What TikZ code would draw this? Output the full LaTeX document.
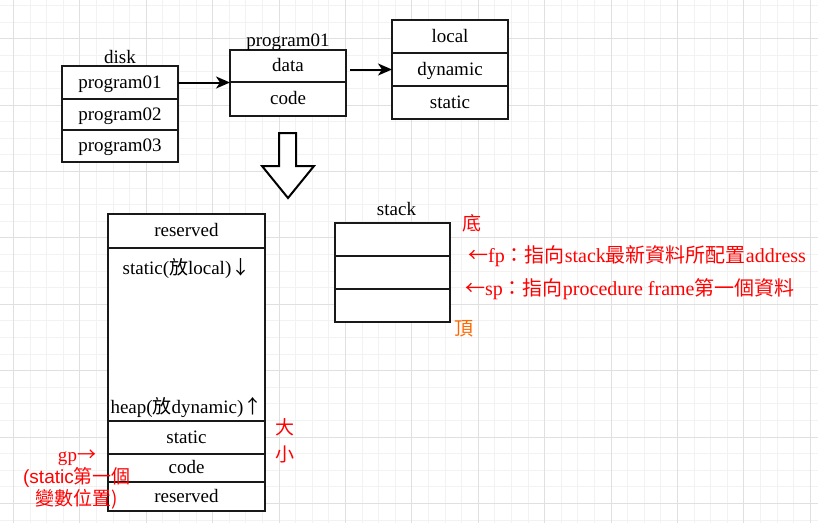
\documentclass[tikz,border=0pt]{standalone}
\usepackage{fontspec}
\setmainfont{Liberation Serif}
\newfontfamily\cjk{Noto Sans CJK TC}
\newfontfamily\latinsans{Liberation Sans}
\usetikzlibrary{positioning,arrows.meta}
\definecolor{topcolor}{RGB}{255,102,0}
\tikzset{
    line cap=round,line join=round,
    cell/.style={draw=black!90, fill=white, line width=2pt, minimum width=116pt,
        minimum height=33pt, inner sep=0pt, outer sep=0pt, text height=14pt, text depth=3pt},
    mem cell/.style={cell, minimum width=157pt},
    red note/.style={text=red, inner sep=0pt},
    flow/.style={-{Stealth[length=14pt,width=12pt,inset=4pt]}, line width=2pt},
    minor grid/.style={draw=black!5, line width=0.8pt},
    major grid/.style={draw=black!12, line width=0.8pt},
}

\begin{document}
\begin{tikzpicture}[x=1pt,y=-1pt,every node/.style={font=\fontsize{19}{22}\selectfont}]
    \useasboundingbox (0,0) rectangle (818,523);
    % grid
    \foreach \i in {0,...,48} \draw[minor grid] ({13.4+16.6*\i},0) -- ++(0,523);
    \foreach \j in {0,...,31} \draw[minor grid] (0,{5.4+16.6*\j}) -- ++(818,0);
    \foreach \i in {0,...,12} \draw[major grid] ({13.4+66.4*\i},0) -- ++(0,523);
    \foreach \j in {0,...,7} \draw[major grid] (0,{38.6+66.4*\j}) -- ++(818,0);

    % disk
    \node[cell] (p1) at (120,82.5) {program01};
    \node[cell, minimum height=31pt, below=0pt of p1] (p2) {program02};
    \node[cell, minimum height=32pt, below=0pt of p2] (p3) {program03};
    \node[above=-1pt of p1] (disk) {disk};

    % program01
    \node[cell, minimum height=32pt] (data) at (288,66) {data};
    \node[cell, minimum height=34pt, below=0pt of data] (code) {code};
    \node[above=-4pt of data] (prog) {program01};

    % local / dynamic / static
    \node[cell] (local) at (450,36.5) {local};
    \node[cell, below=0pt of local] (dyn) {dynamic};
    \node[cell, below=0pt of dyn] (stat) {static};

    \coordinate (dyn in) at (data.east |- dyn.west);
    \draw[flow] (p1.east) -- (p1.east -| data.west);
    \draw[flow] ([xshift=4pt]dyn in) -- (dyn.west);

    % down arrow
    \draw[line width=2pt, fill=white] (279,133) -- (296,133) -- (296,166) -- (314,166)
        -- (288,198) -- (262,166) -- (279,166) -- cycle;

    % memory layout
    \node[mem cell, minimum height=34pt] (res top) at (186.5,231) {reserved};
    \node[mem cell, minimum height=173pt, below=0pt of res top] (free) {};
    \node[mem cell, below=0pt of free] (mstat) {static};
    \node[mem cell, minimum height=28pt, below=0pt of mstat] (mcode) {code};
    \node[mem cell, minimum height=29pt, below=0pt of mcode] (res bot) {reserved};
    \node[below=7pt of free.north] (grow down) {static({\cjk 放}local){\cjk ↓}};
    \node[above=0pt of free.south] (grow up) {heap({\cjk 放}dynamic){\cjk ↑}};

    \node[red note, align=center, font=\cjk\fontsize{19}{27}\selectfont, yshift=-3pt]
        (size) at ([xshift=20pt]mstat.east) {大\\小};
    \node[red note, align=center] (gp) at (77,480)
        {gp{\cjk →}\\{\latinsans(static}{\cjk 第一個}\\{\cjk 變數位置)}};

    % stack
    \node[cell, minimum width=115pt] (s1) at (392.5,239.5) {};
    \node[cell, minimum width=115pt, below=0pt of s1] (s2) {};
    \node[cell, minimum width=115pt, below=0pt of s2] (s3) {};
    \node[above=4pt of s1, xshift=4pt] (stack) {stack};

    \node[red note, right=12pt of s1.north east] (bottom) {\cjk 底};
    \node[red note, right=4pt of s3.south east, yshift=-7pt, text=topcolor] (top) {\cjk 頂};
    \node[red note, right=18pt of s1.south east, font=\fontsize{20}{22}\selectfont] (fp)
        {{\cjk ←}fp{\cjk ：指向}stack{\cjk 最新資料所配置}address};
    \node[red note, right=15pt of s2.south east, font=\fontsize{20}{22}\selectfont] (sp)
        {{\cjk ←}sp{\cjk ：指向}procedure frame{\cjk 第一個資料}};
\end{tikzpicture}
\end{document}
